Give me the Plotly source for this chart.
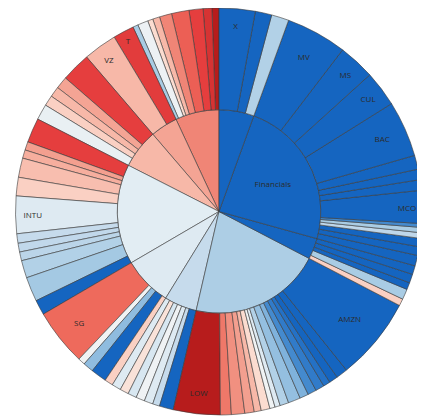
import plotly.graph_objects as go

# Inner ring: sectors (clockwise from 12 o'clock)
sectors = ["Materials", "Financials", "Real Estate", "Consumer Discretionary", "Energy",
           "Utilities", "Information Technology", "Health Care", "Communication Services",
           "Consumer Staples"]
sector_change = [1.0, 1.0, 1.0, 0.38, 0.24, 0.12, 0.10, -0.20, -0.28, -0.40]

# Outer ring: stocks (clockwise from 12 o'clock)
leaf_tickers = [
    "X", "NUE", "FCX",
    "MV", "MS", "CUL", "BAC", "GS", "SCHW", "AXP", "MCO", "BLK", "SPGI", "CB", "PGR", "MMC", "USB",
    "PLD", "AMT", "EQIX", "SPG", "O",
    "AMZN", "TSLA", "HD", "MCD", "NKE", "SBUX", "BKNG", "TJX", "CMG", "ORLY", "MAR", "GM", "F",
    "ROST", "YUM", "AZO", "LOW",
    "XOM", "CVX", "COP", "EOG", "SLB", "PSX", "MPC",
    "NEE", "DUK", "D", "AEP", "SG",
    "AAPL", "MSFT", "NVDA", "AVGO", "ORCL", "CRM", "INTU", "ADBE", "CSCO", "ACN", "TXN", "IBM",
    "UNH", "JNJ", "LLY", "PFE", "ABBV",
    "VZ", "T",
    "PG", "KO", "PEP", "COST", "WMT", "PM", "MO", "MDLZ", "CL",
]
leaf_sectors = (
    ["Materials"] * 3 + ["Financials"] * 14 + ["Real Estate"] * 5 +
    ["Consumer Discretionary"] * 17 + ["Energy"] * 7 + ["Utilities"] * 5 +
    ["Information Technology"] * 12 + ["Health Care"] * 5 +
    ["Communication Services"] * 2 + ["Consumer Staples"] * 9
)
leaf_caps = [
    10.3, 4.7, 5.0,
    17.4, 10.4, 10.2, 16.0, 4.0, 3.0, 3.0, 9.4, 1.1, 1.5, 1.6, 2.4, 2.5, 3.0,
    2.5, 2.5, 2.0, 3.0, 2.0,
    23.7, 3.3, 2.5, 2.0, 2.5, 2.5, 2.5, 3.5, 2.5, 1.5, 1.5, 2.5, 2.0, 2.7, 3.8, 3.1, 13.4,
    4.0, 2.0, 2.5, 2.5, 2.5, 2.5, 2.6,
    2.4, 4.5, 3.0, 2.0, 16.2,
    4.3, 7.0, 5.0, 2.5, 2.5, 2.7, 10.7, 5.3, 5.5, 2.4, 2.4, 7.0,
    4.5, 3.0, 3.0, 3.5, 8.4,
    9.6, 6.0,
    1.5, 3.0, 1.5, 2.0, 3.5, 5.0, 4.0, 2.5, 2.0,
]
leaf_changes = [
    1.0, 1.0, 0.35,
    1.0, 1.0, 1.0, 1.0, 1.0, 1.0, 1.0, 1.0, 0.75, 0.40, 0.28, 1.0, 1.0, 1.0,
    1.0, 1.0, 1.0, 0.40, -0.12,
    1.0, 1.0, 1.0, 0.92, 0.85, 0.75, 0.56, 0.48, 0.35, 0.12, 0.02, -0.08, -0.20, -0.30, -0.36, -0.45, -1.0,
    1.0, 0.24, 0.12, 0.03, 0.15, -0.06, 0.12,
    -0.12, 1.0, 0.50, 0.02, -0.50,
    1.0, 0.42, 0.35, 0.30, 0.27, 0.24, 0.12, -0.12, -0.18, -0.24, -0.30, -0.70,
    0.06, -0.12, -0.20, -0.28, -0.70,
    -0.20, -0.72,
    0.40, 0.04, -0.08, -0.20, -0.40, -0.55, -0.70, -0.80, -1.0,
]

# Labels that are large enough to be printed in the chart
shown_labels = ["Financials", "X", "MV", "MS", "CUL", "BAC", "MCO", "AMZN", "LOW",
                "SG", "INTU", "VZ", "T"]

colorscale = [
    [0.00, "#b71c1c"], [0.15, "#e53e3e"], [0.25, "#ee6a5c"], [0.32, "#f19080"],
    [0.40, "#f7b8a8"], [0.46, "#fbdcd0"], [0.50, "#f4f4f4"], [0.55, "#e2edf3"],
    [0.62, "#c6dbec"], [0.70, "#a9cce4"], [0.78, "#7fb2dc"], [0.86, "#4a8ed0"],
    [1.00, "#1565c0"],
]

sector_values = [sum(c for c, s in zip(leaf_caps, leaf_sectors) if s == sec) for sec in sectors]

# plotly lays sunburst slices counter-clockwise, so feed them in reverse order
ids = sectors[::-1] + leaf_tickers[::-1]
labels = ids
parents = [""] * len(sectors) + leaf_sectors[::-1]
values = sector_values[::-1] + leaf_caps[::-1]
colors = sector_change[::-1] + leaf_changes[::-1]
templates = ["%{label}" if lab in shown_labels else "" for lab in labels]

fig = go.Figure(go.Sunburst(
    ids=ids, labels=labels, parents=parents, values=values,
    branchvalues="total", sort=False, rotation=90,
    insidetextorientation="horizontal",
    texttemplate=templates,
    marker=dict(colors=colors, colorscale=colorscale, cmin=-1, cmax=1,
                line=dict(color="#3a3a3a", width=0.6)),
    textfont=dict(color="#2b2b2b", size=8, family="Open Sans"),
))
fig.update_layout(
    width=425, height=419,
    margin=dict(l=5, r=8, t=0, b=12),
    paper_bgcolor="white",
    uniformtext=dict(minsize=6, mode="hide"),
)
fig.write_html("out.html")
